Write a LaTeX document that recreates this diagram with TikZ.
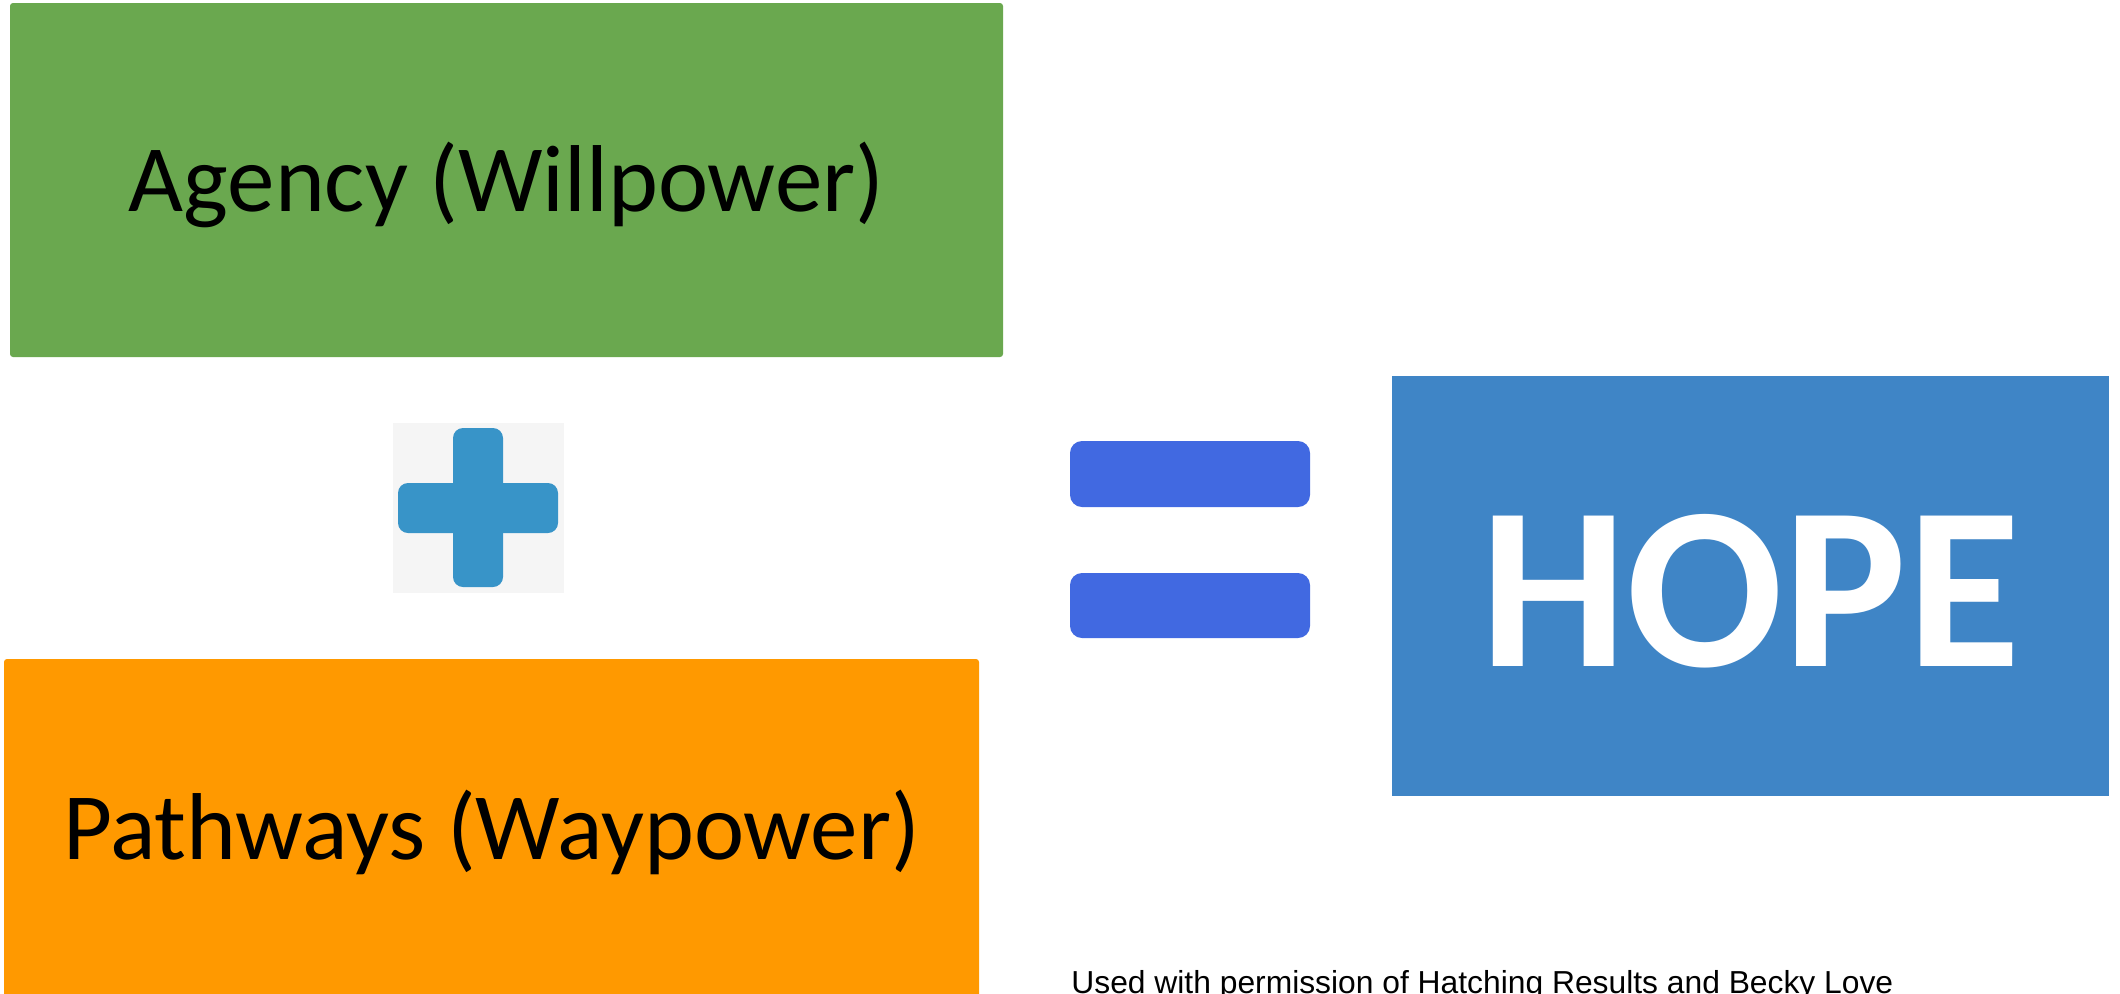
\documentclass[tikz,border=0pt]{standalone}
\usepackage{fontspec}
\setmainfont{Carlito}
\newfontfamily\arialf{Liberation Sans}
\definecolor{agencygreen}{HTML}{6AA84F}
\definecolor{pathorange}{HTML}{FF9900}
\definecolor{hopeblue}{HTML}{3F85C6}
\definecolor{plusblue}{HTML}{3894C8}
\definecolor{plusbg}{HTML}{F5F5F5}
\definecolor{eqblue}{HTML}{4169E1}
\tikzset{
  panel/.style={rounded corners=1.5pt, inner sep=0pt},
  paneltext/.style={inner sep=0pt, text=black, font=\fontsize{47.5}{50}\selectfont},
  hopebox/.style={inner sep=0pt, fill=hopeblue},
  hopetext/.style={inner sep=0pt, text=white, font=\bfseries\fontsize{116}{120}\selectfont},
  plusbar/.style={fill=plusblue, rounded corners=5pt},
  eqbar/.style={fill=eqblue, rounded corners=6pt},
  footer/.style={inner sep=0pt, font=\arialf\fontsize{15.9}{18}\selectfont}
}
\begin{document}
\begin{tikzpicture}[x=0.5pt,y=-0.5pt]
\useasboundingbox (0,0) rectangle (2120,993);
\clip (0,0) rectangle (2120,993);
\fill[white] (0,0) rectangle (2120,993);
% Agency box
\node[panel, fill=agencygreen, minimum width=496.5pt, minimum height=177pt] (agency) at (506.5,180) {};
\node[paneltext] (agencytext) at (506.5,185) {Agency (Willpower)};
% Pathways box (runs past the bottom edge)
\node[panel, fill=pathorange, minimum width=487.5pt, minimum height=172pt] (pathways) at (491.5,831) {};
\node[paneltext] (pathwaystext) at (491.5,832) {Pathways (Waypower)};
% Plus sign
\node[fill=plusbg, inner sep=0pt, minimum width=85.5pt, minimum height=85pt] (plus) at (478.5,508) {};
\fill[plusbar] (453,428) rectangle (503,587);
\fill[plusbar] (398,483) rectangle (558,533);
% Equals sign
\fill[eqbar] (1070,441) rectangle (1310,507);
\fill[eqbar] (1070,573) rectangle (1310,638);
% HOPE box
\node[hopebox, minimum width=358.5pt, minimum height=210pt] (hope) at (1750.5,586) {};
\node[hopetext] (hopetext) at (1750.5,591) {HOPE};
% Footer
\node[footer, anchor=base west] (credit) at (1071,993) {Used with permission of Hatching Results and Becky Love};
\end{tikzpicture}
\end{document}
